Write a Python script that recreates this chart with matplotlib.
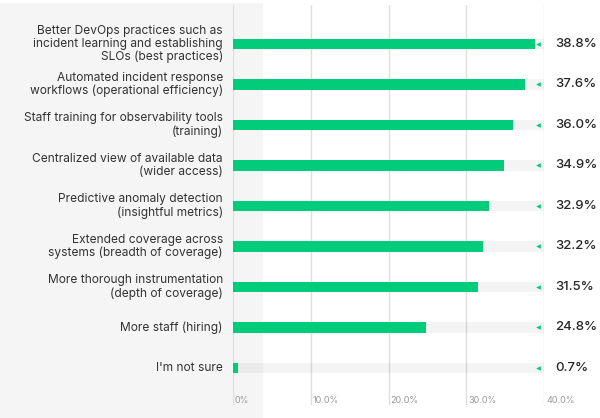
import matplotlib
matplotlib.use("Agg")
import matplotlib.pyplot as plt
from matplotlib.patches import Rectangle

plt.rcParams['font.family'] = ['Inter', 'DejaVu Sans']

categories = [
    "Better DevOps practices such as\nincident learning and establishing\nSLOs (best practices)",
    "Automated incident response\nworkflows (operational efficiency)",
    "Staff training for observability tools\n(training)",
    "Centralized view of available data\n(wider access)",
    "Predictive anomaly detection\n(insightful metrics)",
    "Extended coverage across\nsystems (breadth of coverage)",
    "More thorough instrumentation\n(depth of coverage)",
    "More staff (hiring)",
    "I'm not sure",
]
values = [38.8, 37.6, 36.0, 34.9, 32.9, 32.2, 31.5, 24.8, 0.7]
value_labels = ["38.8%", "37.6%", "36.0%", "34.9%", "32.9%", "32.2%", "31.5%", "24.8%", "0.7%"]
ticks = [0, 10, 20, 30, 40]
tick_labels = ["0%", "10.0%", "20.0%", "30.0%", "40.0%"]
xmax = 40

W, H = 600, 418
fig = plt.figure(figsize=(W / 100, H / 100), dpi=100)
fig.patch.set_facecolor("white")
# gray left panel
fig.patches.append(Rectangle((0, 0), 263 / W, (H - 3) / H, transform=fig.transFigure,
                             facecolor="#f5f5f5", edgecolor="none", zorder=-5))

ax = fig.add_axes([233 / W, (H - 405) / H, 311 / W, 400 / H])
ax.set_zorder(2)
ax.set_facecolor("none")
ax.set_xlim(0, xmax)
n = len(categories)
ax.set_ylim(n - 1 + 0.914, -0.963)
for s in ax.spines.values():
    s.set_visible(False)
ax.set_xticks([])
ax.set_yticks([])

for t in ticks:
    ax.axvline(t, color="#dedede", lw=1, zorder=1)

ys = list(range(n))
bh = 0.25
ax.barh(ys, [xmax] * n, height=bh, color="black", alpha=0.045, zorder=2, linewidth=0)
ax.barh(ys, values, height=bh, color="#00cc7a", zorder=3, linewidth=0)
ax.scatter([39.2] * n, ys, marker="<", s=11, color="#00cc7a", zorder=4, linewidths=0)

px = xmax / 311.0
for y, cat, vl in zip(ys, categories, value_labels):
    ax.text(-10 * px, y, cat, ha="right", va="center", fontsize=8.6, color="#333333",
            linespacing=1.1, clip_on=False)
    ax.text(xmax + 11 * px, y, vl, ha="left", va="center", fontsize=9.5, color="#262626",
            fontweight="medium", clip_on=False)

for t, tl in zip(ticks, tick_labels):
    ax.text(t + 2 * px, n - 1 + 0.8, tl, ha="left", va="center", fontsize=6.5, color="#9a9a9a")

fig.savefig("out.png", dpi=100)
